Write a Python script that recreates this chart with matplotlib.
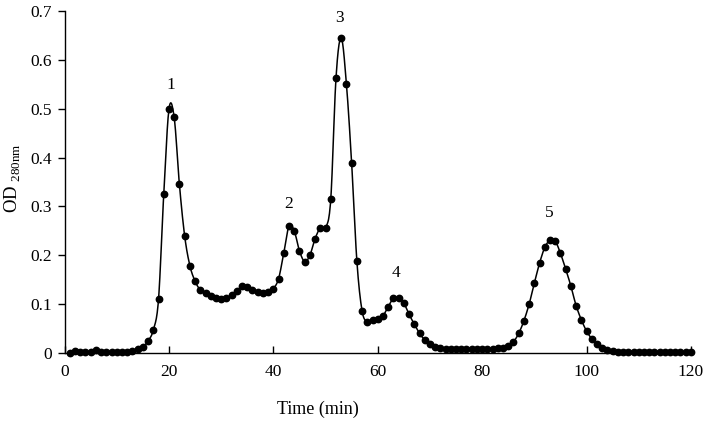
import numpy as np
import matplotlib
matplotlib.use("Agg")
import matplotlib.pyplot as plt

plt.rcParams['font.family'] = ['Liberation Serif', 'DejaVu Serif']
plt.rcParams['mathtext.fontset'] = 'custom'
plt.rcParams['mathtext.rm'] = 'Liberation Serif'

# elution profile, one reading per minute
time_min = np.arange(1, 121)
od280 = [
    0.000, 0.004, 0.003, 0.002, 0.002, 0.006, 0.002, 0.002, 0.002, 0.002,
    0.002, 0.002, 0.004, 0.008, 0.012, 0.025, 0.047, 0.110, 0.325, 0.499,
    0.482, 0.345, 0.240, 0.179, 0.147, 0.129, 0.122, 0.116, 0.112, 0.110,
    0.112, 0.118, 0.127, 0.137, 0.136, 0.129, 0.124, 0.122, 0.125, 0.132,
    0.152, 0.205, 0.260, 0.250, 0.209, 0.187, 0.200, 0.234, 0.256, 0.256,
    0.315, 0.563, 0.645, 0.550, 0.388, 0.188, 0.086, 0.064, 0.068, 0.069,
    0.076, 0.095, 0.112, 0.113, 0.102, 0.079, 0.059, 0.040, 0.027, 0.018,
    0.013, 0.011, 0.009, 0.009, 0.008, 0.008, 0.008, 0.008, 0.008, 0.008,
    0.008, 0.009, 0.010, 0.011, 0.015, 0.023, 0.040, 0.066, 0.100, 0.143,
    0.184, 0.216, 0.231, 0.229, 0.204, 0.172, 0.137, 0.097, 0.068, 0.045,
    0.029, 0.018, 0.011, 0.007, 0.005, 0.003, 0.003, 0.002, 0.002, 0.002,
    0.002, 0.002, 0.002, 0.002, 0.003, 0.002, 0.002, 0.003, 0.002, 0.003,
]

peak_names = ['1', '2', '3', '4', '5']
peak_x = [20.3, 42.9, 52.7, 63.4, 92.8]
peak_y = [0.548, 0.305, 0.685, 0.163, 0.286]


def smooth_line(x, y, n=12):
    # Catmull-Rom style smoothing, like a spreadsheet "smoothed line"
    x = np.asarray(x, float)
    y = np.asarray(y, float)
    px = np.concatenate([[x[0]], x, [x[-1]]])
    py = np.concatenate([[y[0]], y, [y[-1]]])
    xs, ys = [], []
    s = np.linspace(0, 1, n, endpoint=False)
    for i in range(1, len(px) - 2):
        p0x, p1x, p2x, p3x = px[i - 1:i + 3]
        p0y, p1y, p2y, p3y = py[i - 1:i + 3]
        c1x, c1y = p1x + (p2x - p0x) / 6, p1y + (p2y - p0y) / 6
        c2x, c2y = p2x - (p3x - p1x) / 6, p2y - (p3y - p1y) / 6
        b0, b1, b2, b3 = (1 - s) ** 3, 3 * s * (1 - s) ** 2, 3 * s ** 2 * (1 - s), s ** 3
        xs.append(b0 * p1x + b1 * c1x + b2 * c2x + b3 * p2x)
        ys.append(b0 * p1y + b1 * c1y + b2 * c2y + b3 * p2y)
    xs.append([x[-1]])
    ys.append([y[-1]])
    return np.concatenate(xs), np.concatenate(ys)


fig = plt.figure(figsize=(7.08, 4.21), dpi=100)
ax = fig.add_axes([0.0912, 0.1615, 0.8847, 0.8125])

sx, sy = smooth_line(time_min, od280)
ax.plot(sx, sy, color='black', lw=1.1, clip_on=False)
ax.plot(time_min, od280, 'o', color='black', ms=4.6, clip_on=False)

for name, xx, yy in zip(peak_names, peak_x, peak_y):
    ax.text(xx, yy, name, ha='center', va='center', fontsize=12.5)

ax.set_xlim(0, 120)
ax.set_ylim(0, 0.7)
ax.set_xticks(np.arange(0, 121, 20))
ax.set_yticks(np.arange(0, 0.71, 0.1))
ax.set_yticklabels(['0', '0.1', '0.2', '0.3', '0.4', '0.5', '0.6', '0.7'])

for side in ['top', 'right']:
    ax.spines[side].set_visible(False)
for side in ['left', 'bottom']:
    ax.spines[side].set_linewidth(1.0)

ax.tick_params(axis='x', direction='in', length=5, width=1, labelsize=12.5, pad=8)
ax.tick_params(axis='y', direction='out', length=5, width=1, labelsize=12.5, pad=4)

ax.set_xlabel('Time (min)', fontsize=13)
ax.xaxis.set_label_coords(0.404, -0.14)
ax.set_ylabel(r'OD$_{\mathrm{\ 280nm}}$', fontsize=13.5)
ax.yaxis.set_label_coords(-0.066, 0.51)

fig.savefig('out.png', dpi=100)
